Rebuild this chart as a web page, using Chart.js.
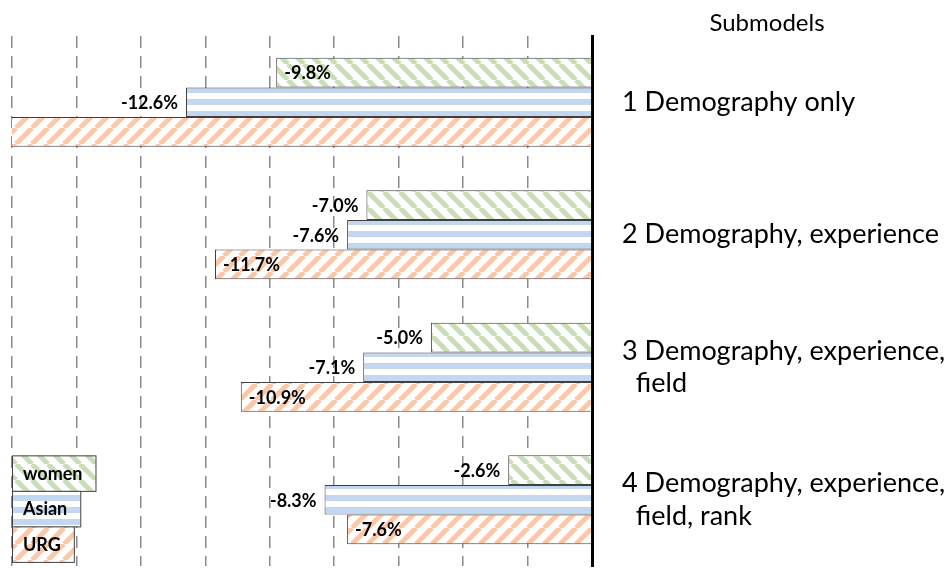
<!DOCTYPE html>
<html>
<head>
<meta charset="utf-8">
<script src="https://cdn.jsdelivr.net/npm/chart.js@4.4.0/dist/chart.umd.min.js"></script>
<style>
html, body { margin: 0; padding: 0; background: #fff; }
#wrap { width: 951px; height: 568px; }
</style>
</head>
<body>
<div id="wrap"><canvas id="myChart"></canvas></div>
<script>
const submodels = [
    '1 Demography only',
    '2 Demography, experience',
    ['3 Demography, experience,', '  field'],
    ['4 Demography, experience,', '  field, rank']
];
const groups = ['women', 'Asian', 'URG'];
const women = [-9.8, -7.0, -5.0, -2.6];
const asian = [-12.6, -7.6, -7.1, -8.3];
const urg = [-19.5, -11.7, -10.9, -7.6];
const axisTitle = 'Submodels';

// label placement (null = not shown)
const labelInside = [
    [true, false, false, false],
    [false, false, false, false],
    [null, true, true, true]
];

const FONT = 'Lato, "Open Sans", sans-serif';

function stripes(color, kind) {
    const c = document.createElement('canvas');
    const s = kind === 'h' ? 12 : 16;
    c.width = s; c.height = s;
    const g = c.getContext('2d');
    g.fillStyle = '#fff';
    g.fillRect(0, 0, s, s);
    if (kind === 'h') {
        g.fillStyle = color;
        g.fillRect(0, 3, s, 6);
    } else {
        g.strokeStyle = color;
        g.lineWidth = 5;
        for (let x = -s; x <= s; x += s) {
            g.beginPath();
            if (kind === 'back') {
                g.moveTo(x, 0); g.lineTo(x + s, s);
            } else {
                g.moveTo(x, s); g.lineTo(x + s, 0);
            }
            g.stroke();
        }
    }
    return g.createPattern(c, 'repeat');
}

const fills = [
    stripes('rgb(200,222,180)', 'back'),
    stripes('rgb(195,216,240)', 'h'),
    stripes('rgb(250,200,168)', 'fwd')
];

const barLabels = {
    id: 'barLabels',
    afterDatasetsDraw(chart) {
        const ctx = chart.ctx;
        const area = chart.chartArea;
        ctx.save();
        ctx.font = 'bold 18px ' + FONT;
        ctx.fillStyle = '#000';
        ctx.textBaseline = 'middle';
        chart.data.datasets.forEach((ds, i) => {
            chart.getDatasetMeta(i).data.forEach((bar, j) => {
                const inside = labelInside[i][j];
                if (inside === null || bar.x < area.left) return;
                const txt = ds.data[j].toFixed(1) + '%';
                if (inside) {
                    ctx.textAlign = 'left';
                    ctx.fillText(txt, bar.x + 8, bar.y + 1);
                } else {
                    ctx.textAlign = 'right';
                    ctx.fillText(txt, bar.x - 8, bar.y + 1);
                }
            });
        });

        // legend boxes, starting at the top of the last group of bars
        const first = chart.getDatasetMeta(0).data[submodels.length - 1];
        const h = first.height * 1.2;
        let top = first.y - first.height / 2;
        chart.data.datasets.forEach((ds, i) => {
            const w = ctx.measureText(ds.label).width + 24;
            ctx.fillStyle = fills[i];
            ctx.fillRect(area.left, top, w, h);
            ctx.strokeStyle = '#404040';
            ctx.lineWidth = 1;
            ctx.strokeRect(area.left + 0.5, top + 0.5, w, h);
            ctx.fillStyle = '#000';
            ctx.textAlign = 'left';
            ctx.fillText(ds.label, area.left + 11, top + h / 2 + 1);
            top += h;
        });

        ctx.font = '24px ' + FONT;
        ctx.textAlign = 'center';
        ctx.textBaseline = 'alphabetic';
        ctx.fillText(axisTitle, area.right + 175, 31);
        ctx.restore();
    }
};

const ctx = document.getElementById('myChart').getContext('2d');
new Chart(ctx, {
    type: 'bar',
    data: {
        labels: submodels,
        datasets: [women, asian, urg].map((vals, i) => ({
            label: groups[i],
            data: vals,
            backgroundColor: fills[i],
            borderColor: '#404040',
            borderWidth: 1,
            categoryPercentage: 0.67,
            barPercentage: 1.0
        }))
    },
    options: {
        indexAxis: 'y',
        responsive: true,
        maintainAspectRatio: false,
        animation: false,
        layout: { padding: { top: 36, left: 12, right: 0, bottom: 2 } },
        plugins: {
            legend: { display: false },
            tooltip: { enabled: false }
        },
        scales: {
            x: {
                min: -18,
                max: 0,
                ticks: { display: false, stepSize: 2 },
                grid: { color: '#8a8a8a', lineWidth: 1.5, drawTicks: false },
                border: { display: false, dash: [12, 8] },
                afterFit(scale) {
                    scale.height = 0;
                    scale.paddingLeft = 0;
                    scale.paddingRight = 0;
                }
            },
            y: {
                position: 'right',
                grid: { display: false, drawTicks: false },
                border: { display: true, color: '#000', width: 3 },
                ticks: {
                    color: '#000',
                    padding: 30,
                    font: { size: 27, family: FONT },
                    lineHeight: 1.15
                },
                afterFit(scale) {
                    scale.width = 359;
                    scale.paddingTop = 0;
                    scale.paddingBottom = 0;
                }
            }
        }
    },
    plugins: [barLabels]
});
</script>
</body>
</html>
